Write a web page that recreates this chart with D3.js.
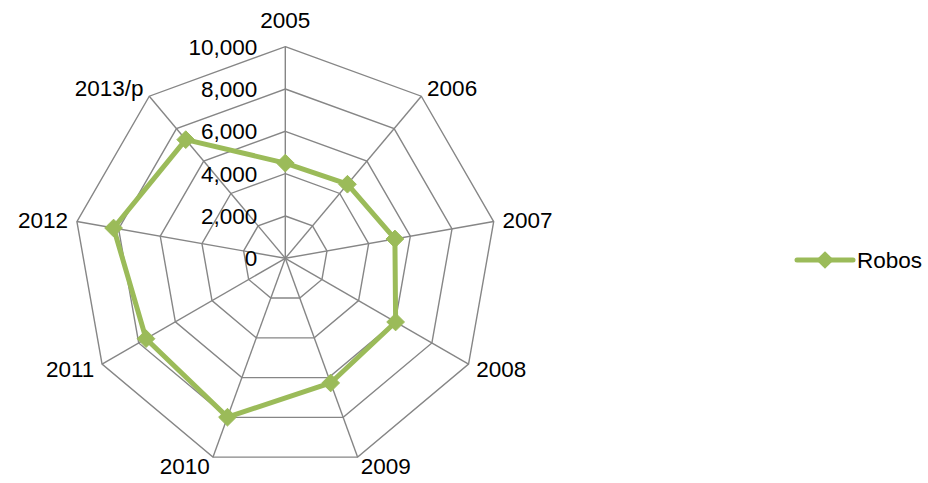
<!DOCTYPE html>
<html>
<head>
<meta charset="utf-8">
<script src="https://cdn.jsdelivr.net/npm/d3@7"></script>
<style>
	html, body { margin: 0; padding: 0; background: #fff; }
	svg text { font-family: "Liberation Sans", "DejaVu Sans", sans-serif; fill: #000; }
</style>
</head>
<body>
<div id="chart"></div>
<script>
// data
const categories = ['2005', '2006', '2007', '2008', '2009', '2010', '2011', '2012', '2013/p'];
const robos = [4500, 4570, 5260, 6020, 6270, 7990, 7600, 8240, 7320];
const tickValues = [0, 2000, 4000, 6000, 8000, 10000];
const seriesName = 'Robos';

const options = {
	w: 928,
	h: 483,
	cx: 285.3,
	cy: 258.3,
	radius: 211.6,
	gridColor: '#868686',
	lineColor: '#9BBB59',
	fontSize: 22.5
};

const svg = d3.select('#chart').append('svg')
	.attr('width', options.w)
	.attr('height', options.h);

const g = svg.append('g')
	.attr('transform', 'translate(' + options.cx + ',' + options.cy + ')');

// scales
const r = d3.scaleLinear().domain([0, 10000]).range([0, options.radius]);
const angle = d3.scalePoint().domain(categories.concat(['_end'])).range([0, 2 * Math.PI]);

const px = (c, v) => r(v) * Math.sin(angle(c));
const py = (c, v) => -r(v) * Math.cos(angle(c));

// grid rings
const ring = d3.line().x(d => d[0]).y(d => d[1]).curve(d3.curveLinearClosed);

g.append('g').selectAll('path')
	.data(tickValues.filter(t => t > 0))
	.enter()
	.append('path')
	.attr('d', t => ring(categories.map(c => [px(c, t), py(c, t)])))
	.attr('fill', 'none')
	.attr('stroke', options.gridColor)
	.attr('stroke-width', 1.4);

// spokes
g.append('g').selectAll('line')
	.data(categories)
	.enter()
	.append('line')
	.attr('x1', 0).attr('y1', 0)
	.attr('x2', c => px(c, 10000))
	.attr('y2', c => py(c, 10000))
	.attr('stroke', options.gridColor)
	.attr('stroke-width', 1.4);

// tick labels
g.append('g').selectAll('text')
	.data(tickValues)
	.enter()
	.append('text')
	.attr('x', -28)
	.attr('y', t => -r(t))
	.attr('dy', '0.35em')
	.attr('text-anchor', 'end')
	.style('font-size', options.fontSize + 'px')
	.text(t => d3.format(',')(t));

// category labels
g.append('g').selectAll('text')
	.data(categories)
	.enter()
	.append('text')
	.attr('x', c => {
		const s = Math.sin(angle(c));
		return (options.radius + 9) * s;
	})
	.attr('y', c => {
		const a = angle(c);
		if (Math.abs(Math.sin(a)) < 0.01) return -options.radius - 27;
		return -(options.radius + 10) * Math.cos(a);
	})
	.attr('dy', '0.35em')
	.attr('text-anchor', c => {
		const s = Math.sin(angle(c));
		return Math.abs(s) < 0.01 ? 'middle' : (s > 0 ? 'start' : 'end');
	})
	.style('font-size', options.fontSize + 'px')
	.text(c => c);

// series line
const pts = categories.map((c, i) => [px(c, robos[i]), py(c, robos[i])]);

g.append('path')
	.attr('d', ring(pts))
	.attr('fill', 'none')
	.attr('stroke', options.lineColor)
	.attr('stroke-width', 5)
	.attr('stroke-linejoin', 'round');

const diamond = d3.symbol().type(d3.symbolDiamond2).size(200);

g.append('g').selectAll('path')
	.data(pts)
	.enter()
	.append('path')
	.attr('d', diamond)
	.attr('transform', d => 'translate(' + d[0] + ',' + d[1] + ')')
	.attr('fill', options.lineColor)
	.attr('stroke', options.lineColor)
	.attr('stroke-width', 1);

// legend
const legend = svg.append('g').attr('transform', 'translate(797, 260)');

legend.append('line')
	.attr('x1', 0).attr('x2', 56)
	.attr('y1', 0).attr('y2', 0)
	.attr('stroke', options.lineColor)
	.attr('stroke-width', 5)
	.attr('stroke-linecap', 'round');

legend.append('path')
	.attr('d', diamond)
	.attr('transform', 'translate(28, 0)')
	.attr('fill', options.lineColor);

legend.append('text')
	.attr('x', 60)
	.attr('y', 0)
	.attr('dy', '0.35em')
	.style('font-size', options.fontSize + 'px')
	.text(seriesName);
</script>
</body>
</html>
